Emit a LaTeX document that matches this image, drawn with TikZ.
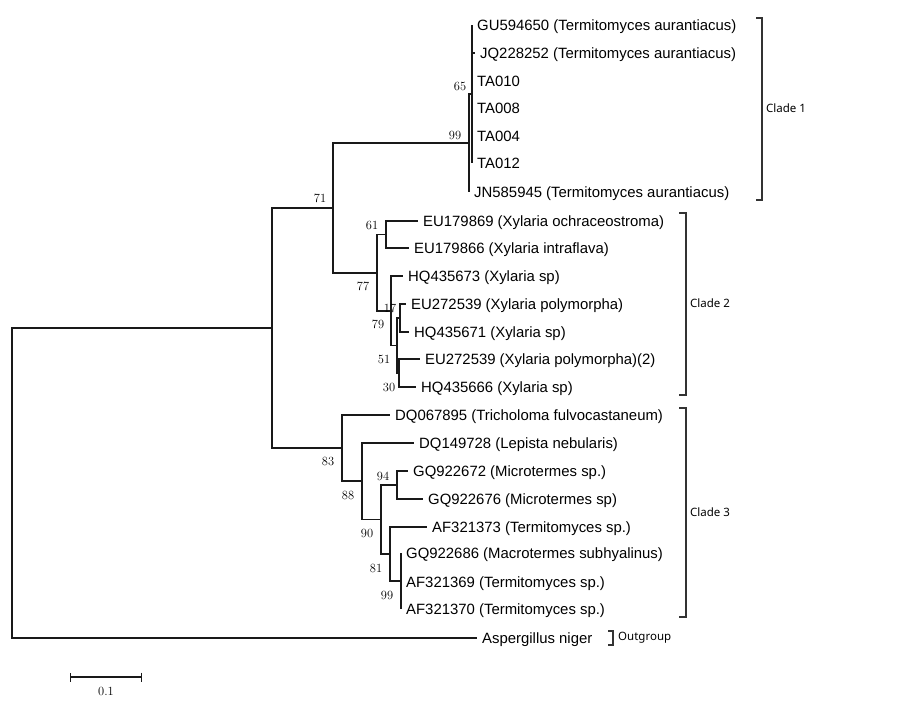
\documentclass[tikz,border=0pt]{standalone}
\usepackage{fontspec}
\usetikzlibrary{arrows.meta, positioning, calc}
\newfontfamily\leaffont{Liberation Sans}
\newfontfamily\cladefont{Noto Sans}
\tikzset{
    branch/.style={line width=1.1pt, black!90},
    leaf/.style={anchor=west, inner xsep=5pt, inner ysep=0pt, text height=10.5pt, text depth=0pt, font=\leaffont\fontsize{14.9}{16}\selectfont},
    boot/.style={inner sep=0pt, black, font=\fontsize{12.5}{14}\selectfont},
    bracket/.style={line width=1.1pt, black!80},
    cladelabel/.style={anchor=west, inner sep=0pt, font=\cladefont\fontsize{11.5}{13}\selectfont},
}

\begin{document}
\begin{tikzpicture}[x=1pt, y=-1pt]
\fill[white] (0,0) rectangle (900,720);
\useasboundingbox (0,0) rectangle (900,720);

% internal nodes
\coordinate (root) at (12,483);
\coordinate (n71) at (272,328);
\coordinate (nA) at (333,208);
\coordinate (n99) at (469,143);
\coordinate (n65) at (472,94);
\coordinate (nB) at (377,273);
\coordinate (n61) at (386,234.5);
\coordinate (n79) at (391,311);
\coordinate (nZ) at (397,345.5);
\coordinate (n17) at (400,318);
\coordinate (n51) at (399,373);
\coordinate (n83) at (342,448);
\coordinate (n88) at (362,481);
\coordinate (n90) at (381,519.5);
\coordinate (n94) at (397,485);
\coordinate (n81) at (390,554);
\coordinate (n99b) at (401,581);

% Clade 1
\node[leaf] (gu) at (472,25) {GU594650 (Termitomyces aurantiacus)};
\node[leaf] (jq) at (475,53) {JQ228252 (Termitomyces aurantiacus)};
\node[leaf] (ta10) at (472,81) {TA010};
\node[leaf] (ta08) at (472,108) {TA008};
\node[leaf] (ta04) at (472,136) {TA004};
\node[leaf] (ta12) at (472,163) {TA012};
\node[leaf] (jn) at (469,192) {JN585945 (Termitomyces aurantiacus)};

% Clade 2
\node[leaf] (eu69) at (418,221) {EU179869 (Xylaria ochraceostroma)};
\node[leaf] (eu66) at (409,248) {EU179866 (Xylaria intraflava)};
\node[leaf] (hq73) at (403,276) {HQ435673 (Xylaria sp)};
\node[leaf] (eu39) at (406,304) {EU272539 (Xylaria polymorpha)};
\node[leaf] (hq71) at (409,332) {HQ435671 (Xylaria sp)};
\node[leaf] (eu39b) at (420,359) {EU272539 (Xylaria polymorpha)(2)};
\node[leaf] (hq66) at (416,387) {HQ435666 (Xylaria sp)};

% Clade 3
\node[leaf] (dq95) at (390,415) {DQ067895 (Tricholoma fulvocastaneum)};
\node[leaf] (dq28) at (414,443) {DQ149728 (Lepista nebularis)};
\node[leaf] (gq72) at (408,471) {GQ922672 (Microtermes sp.)};
\node[leaf] (gq76) at (423,499) {GQ922676 (Microtermes sp)};
\node[leaf] (af73) at (427,527) {AF321373 (Termitomyces sp.)};
\node[leaf] (gq86) at (401,553) {GQ922686 (Macrotermes subhyalinus)};
\node[leaf] (af69) at (401,582) {AF321369 (Termitomyces sp.)};
\node[leaf] (af70) at (401,609) {AF321370 (Termitomyces sp.)};

% Outgroup
\node[leaf] (asp) at (477,638) {Aspergillus niger};

% branches
\foreach \p/\c in {root/n71, root/asp, n71/nA, n71/n83, nA/n99, nA/nB,
    n99/n65, n99/jn, n65/gu, n65/jq, n65/ta10, n65/ta08, n65/ta04, n65/ta12,
    nB/n61, nB/n79, n61/eu69, n61/eu66, n79/hq73, n79/nZ, nZ/n17, nZ/n51,
    n17/eu39, n17/hq71, n51/eu39b, n51/hq66,
    n83/dq95, n83/n88, n88/dq28, n88/n90, n90/n94, n90/n81, n94/gq72, n94/gq76,
    n81/af73, n81/n99b, n99b/gq86, n99b/af69, n99b/af70}
  \draw[branch] (\p) |- (\c);

% bootstrap values
\node[boot] (b71) at (320,198) {71};
\node[boot] (b99) at (455,135) {99};
\node[boot] (b65) at (460,86) {65};
\node[boot] (b61) at (372,225) {61};
\node[boot] (b77) at (363,286) {77};
\node[boot] (b17) at (390,308) {17};
\node[boot] (b79) at (378,324) {79};
\node[boot] (b51) at (384,359) {51};
\node[boot] (b30) at (389,387) {30};
\node[boot] (b83) at (328,461) {83};
\node[boot] (b88) at (348,495) {88};
\node[boot] (b94) at (383,476) {94};
\node[boot] (b90) at (367,533) {90};
\node[boot] (b81) at (376,568) {81};
\node[boot] (b99b) at (387,595) {99};

% clade brackets
\draw[bracket] (756,18) -| (762,200) -- (756,200);
\node[cladelabel] (c1) at (766,108) {Clade 1};
\draw[bracket] (679,213) -| (686,395) -- (679,395);
\node[cladelabel] (c2) at (690,303) {Clade 2};
\draw[bracket] (679,408) -| (686,617) -- (679,617);
\node[cladelabel] (c3) at (690,512) {Clade 3};
\draw[bracket] (608,631) -| (613,645) -- (608,645);
\node[cladelabel] (og) at (618,638) {Outgroup};

% scale bar
\coordinate (s0) at (70,677);
\coordinate (s1) at (142,677);
\draw[branch, {Bar[width=9pt]}-{Bar[width=9pt]}] (s0) -- (s1);
\node[boot, below=10pt of $(s0)!0.5!(s1)$] (sb) {0.1};
\end{tikzpicture}
\end{document}
